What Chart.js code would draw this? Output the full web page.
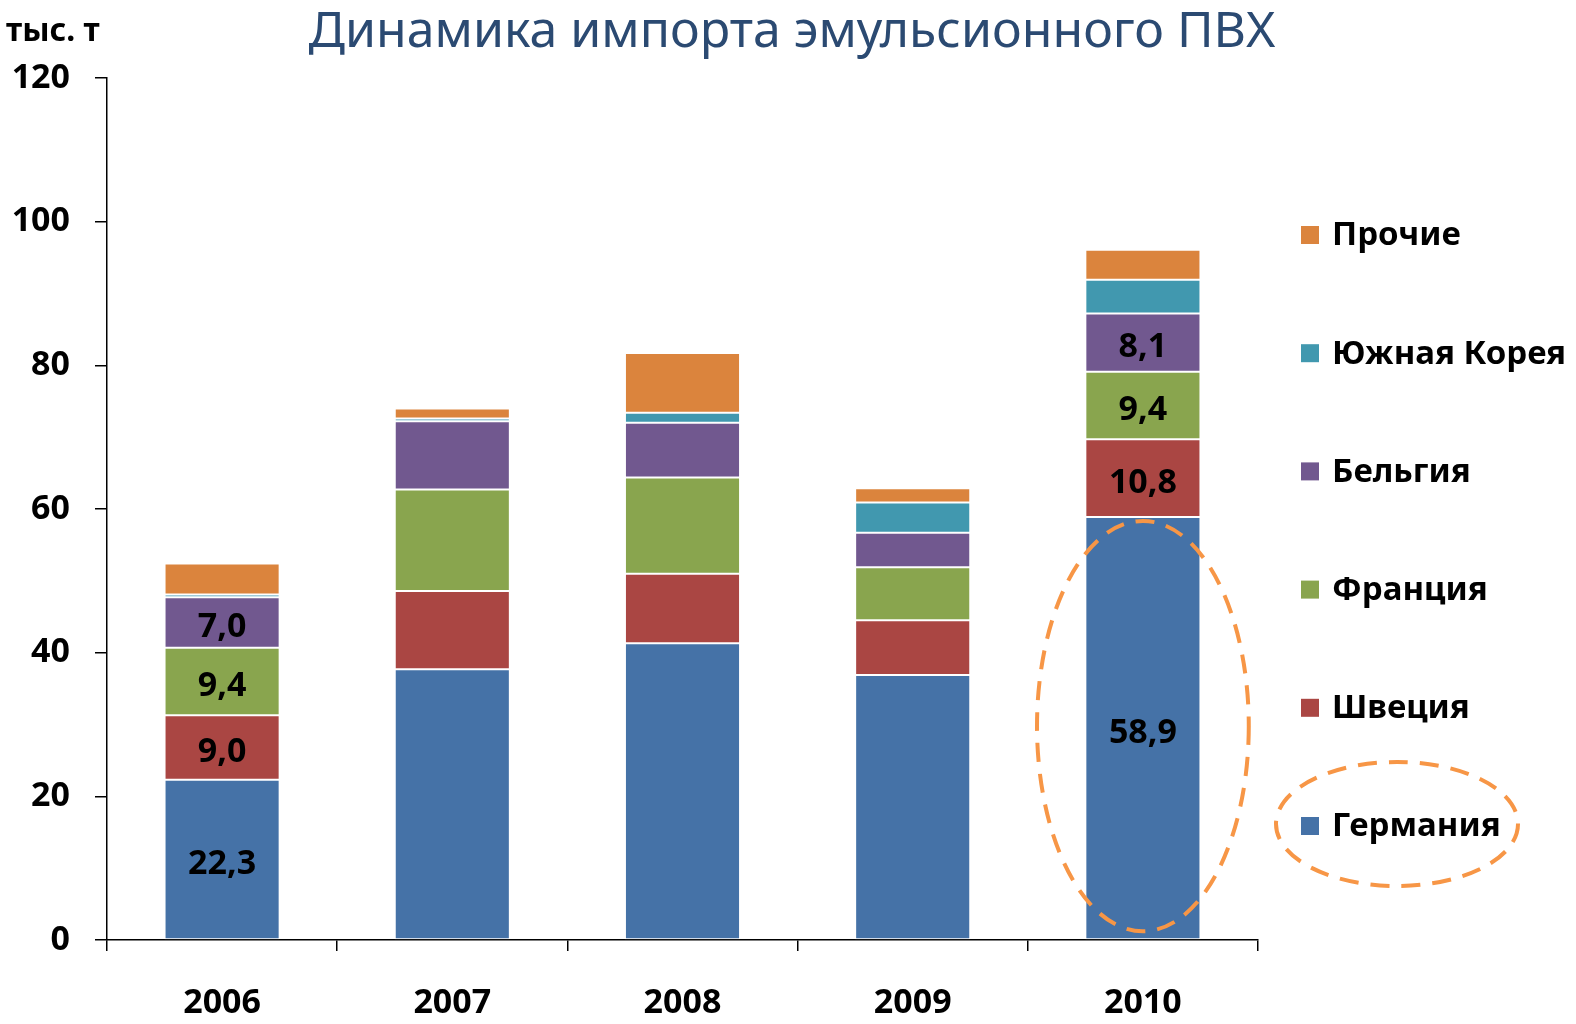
<!DOCTYPE html>
<html>
<head>
<meta charset="utf-8">
<script src="https://cdn.jsdelivr.net/npm/chart.js@4.4.1/dist/chart.umd.min.js"></script>
<style>
  html, body { margin: 0; padding: 0; background: #fff; }
  #wrap { width: 1576px; height: 1024px; }
</style>
</head>
<body>
<div id="wrap"><canvas id="importChart"></canvas></div>
<script>
// данные (тыс. т)
const years = ['2006', '2007', '2008', '2009', '2010'];
const germany = [22.3, 37.7, 41.3, 36.9, 58.9];
const sweden = [9.0, 10.9, 9.7, 7.6, 10.8];
const france = [9.4, 14.1, 13.4, 7.4, 9.4];
const belgium = [7.0, 9.5, 7.6, 4.8, 8.1];
const korea = [0.4, 0.4, 1.4, 4.2, 4.7];
const others = [4.3, 1.4, 8.3, 2.0, 4.2];
const yTicks = [0, 20, 40, 60, 80, 100, 120];
// подписи значений только для 2006 и 2010
const labeledYears = ['2006', '2010'];
const labeledSeries = ['Германия', 'Швеция', 'Франция', 'Бельгия'];

const FONT = '"Noto Sans", "Open Sans", sans-serif';
const HIGHLIGHT = '#F79646';

// подписи значений внутри столбцов
const valueLabels = {
  id: 'valueLabels',
  afterDatasetsDraw(chart) {
    const ctx = chart.ctx;
    ctx.save();
    ctx.font = 'bold 34px ' + FONT;
    ctx.fillStyle = '#000';
    ctx.textAlign = 'center';
    ctx.textBaseline = 'middle';
    chart.data.datasets.forEach((ds, i) => {
      if (!labeledSeries.includes(ds.label)) return;
      const meta = chart.getDatasetMeta(i);
      meta.data.forEach((bar, j) => {
        if (!labeledYears.includes(chart.data.labels[j])) return;
        const txt = ds.data[j].toFixed(1).replace('.', ',');
        ctx.fillText(txt, bar.x, (bar.y + bar.base) / 2 + 5);
      });
    });
    ctx.restore();
  }
};

// заголовок, единицы, легенда справа и пунктирные овалы
const decorations = {
  id: 'decorations',
  afterDraw(chart) {
    const ctx = chart.ctx;
    ctx.save();

    ctx.font = '50px ' + FONT;
    ctx.fillStyle = '#2b4a72';
    ctx.textAlign = 'center';
    ctx.textBaseline = 'alphabetic';
    ctx.fillText('Динамика импорта эмульсионного ПВХ', 792, 47);

    ctx.font = 'bold 32px ' + FONT;
    ctx.fillStyle = '#000';
    ctx.textAlign = 'left';
    ctx.textBaseline = 'middle';
    ctx.fillText('тыс. т', 6, 32);

    ctx.font = 'bold 33px ' + FONT;
    const items = chart.data.datasets.map((ds, i) => ({ ds, i })).reverse();
    let germanyPos = null;
    items.forEach((it, k) => {
      const y = 235 + k * 118.2;
      ctx.fillStyle = it.ds.backgroundColor;
      ctx.fillRect(1301, y - 9, 18, 18);
      ctx.fillStyle = '#000';
      ctx.fillText(it.ds.label, 1332, y + 1);
      if (it.ds.label === 'Германия') germanyPos = y;
    });

    ctx.strokeStyle = HIGHLIGHT;
    ctx.lineWidth = 4;
    ctx.setLineDash([19, 12]);

    // овал вокруг "Германия" в легенде
    if (germanyPos !== null) {
      ctx.beginPath();
      ctx.ellipse(1397, germanyPos - 2, 121, 62, 0, 0, Math.PI * 2);
      ctx.stroke();
    }

    // овал вокруг столбца Германии за 2010
    const gIdx = chart.data.datasets.findIndex(d => d.label === 'Германия');
    const bar = chart.getDatasetMeta(gIdx).data[years.indexOf('2010')];
    if (bar) {
      const cy = (bar.y + bar.base) / 2;
      const ry = (bar.base - bar.y) / 2 - 6;
      ctx.beginPath();
      ctx.ellipse(bar.x, cy - 2, bar.width * 0.92, ry, 0, 0, Math.PI * 2);
      ctx.stroke();
    }
    ctx.restore();
  }
};

function series(label, data, color) {
  return {
    label: label,
    data: data,
    backgroundColor: color,
    borderColor: '#ffffff',
    borderWidth: 1,
    borderSkipped: false
  };
}

const ctx = document.getElementById('importChart').getContext('2d');
const importChart = new Chart(ctx, {
  type: 'bar',
  data: {
    labels: years,
    datasets: [
      series('Германия', germany, '#4572A7'),
      series('Швеция', sweden, '#AA4643'),
      series('Франция', france, '#89A54E'),
      series('Бельгия', belgium, '#71588F'),
      series('Южная Корея', korea, '#4198AF'),
      series('Прочие', others, '#DB843D')
    ]
  },
  options: {
    responsive: true,
    maintainAspectRatio: false,
    animation: false,
    categoryPercentage: 0.5,
    barPercentage: 1.0,
    layout: { padding: { left: 0, right: 318, top: 78, bottom: 0 } },
    plugins: {
      legend: { display: false },
      tooltip: { enabled: false },
      title: { display: false }
    },
    scales: {
      x: {
        stacked: true,
        afterFit: (scale) => { scale.height = 84; },
        grid: {
          display: true,
          drawOnChartArea: false,
          drawTicks: true,
          tickLength: 11,
          color: '#000',
          lineWidth: 1.5,
          offset: true
        },
        border: { display: true, color: '#000', width: 1.5 },
        ticks: {
          color: '#000',
          padding: 32,
          font: { family: FONT, size: 34, weight: 'bold' }
        }
      },
      y: {
        stacked: true,
        min: 0,
        max: 120,
        afterFit: (scale) => { scale.width = 107; },
        afterBuildTicks: (scale) => { scale.ticks = yTicks.map(v => ({ value: v })); },
        grid: {
          display: true,
          drawOnChartArea: false,
          drawTicks: true,
          tickLength: 12,
          color: '#000',
          lineWidth: 1.5
        },
        border: { display: true, color: '#000', width: 1.5 },
        ticks: {
          color: '#000',
          padding: 25,
          font: { family: FONT, size: 34, weight: 'bold' }
        }
      }
    }
  },
  plugins: [valueLabels, decorations]
});
</script>
</body>
</html>
